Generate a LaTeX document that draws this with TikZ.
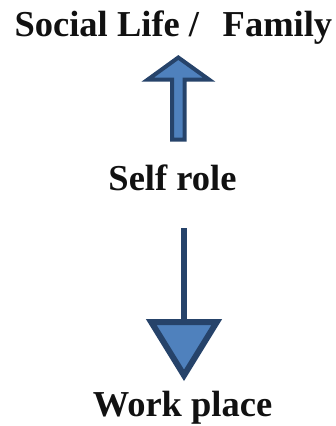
\documentclass[tikz,border=0pt]{standalone}
\usepackage{fontspec}
\setmainfont{Liberation Serif}
\definecolor{arrowfill}{HTML}{4F81BD}
\definecolor{arrowline}{HTML}{26436A}
\definecolor{txt}{HTML}{111111}
\begin{document}
\begin{tikzpicture}[x=1pt,y=-1pt,
  lbl/.style={anchor=base,inner sep=0pt,font=\fontsize{36.5}{40}\selectfont\bfseries,text=txt},
  arr/.style={draw=arrowline,fill=arrowfill,line join=miter}]
\useasboundingbox (0,0) rectangle (335,426);
\node[lbl] (social) at (173.4,36) {Social Life /\hspace{23.6pt}Family};
\node[lbl] (self) at (172.5,190.3) {Self role};
\node[lbl] (work) at (182.5,416.5) {Work place};
% up block arrow
\draw[arr,line width=4] (178.3,57.5) -- (209.2,79.7) -- (184.7,79.7) -- (184.7,139.7)
  -- (172,139.7) -- (172,79.7) -- (147.6,79.7) -- cycle;
% down arrow
\draw[draw=arrowline,line width=5.7] (184,228.3) -- (184,320);
\draw[arr,line width=6] (151.2,322) -- (216.8,322) -- (184,375.3) -- cycle;
\end{tikzpicture}
\end{document}
